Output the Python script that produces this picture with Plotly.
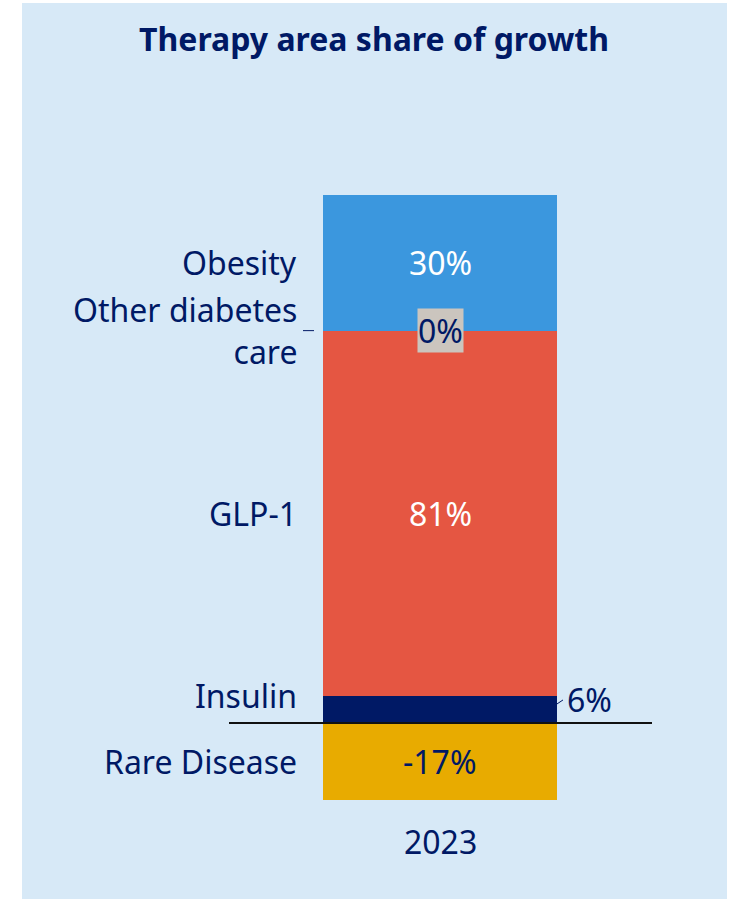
import plotly.graph_objects as go

# ---- data ----
year = ["2023"]
categories = ["Rare Disease", "Insulin", "GLP-1", "Other diabetes care", "Obesity"]
values = [-17, 6, 81, 0, 30]
label_texts = ["Rare Disease", "Insulin", "GLP-1", "Other diabetes<br>care", "Obesity"]
colors = ["#e8ab00", "#001965", "#e55642", "#d2ccc4", "#3b97de"]
title_text = "Therapy area share of growth"

NAVY = "#001965"
FONT = "Noto Sans"
FS = 32
W, H = 734, 899

# pixel geometry helpers (layout only)
PX_PER_UNIT = 4.51
ZERO_PX = 723
BAR_PX = 234
BAR_CENTER_PX = 440
x0_range = -BAR_CENTER_PX / BAR_PX
x_range = [x0_range, x0_range + W / BAR_PX]
y_range = [-(H - ZERO_PX) / PX_PER_UNIT, ZERO_PX / PX_PER_UNIT]

fig = go.Figure()
for cat, v, c in zip(categories, values, colors):
    fig.add_trace(go.Bar(
        x=[0], y=[v], name=cat, marker=dict(color=c, line=dict(width=0)),
        width=1, showlegend=False, hoverinfo="skip",
    ))

# cumulative positions (relative stacking)
pos_base, neg_base = 0.0, 0.0
segments = []
for v in values:
    if v >= 0:
        lo, hi = pos_base, pos_base + v
        pos_base = hi
    else:
        hi, lo = neg_base, neg_base + v
        neg_base = lo
    segments.append((lo, hi))

annotations = []
for i, (cat, v, txt) in enumerate(zip(categories, values, label_texts)):
    lo, hi = segments[i]
    mid = (lo + hi) / 2
    ly = mid
    yshift = 0
    if cat == "Insulin":
        ly = hi
        yshift = 0
    annotations.append(dict(
        x=-0.5, y=ly, xref="x", yref="y", text=txt, showarrow=False,
        xanchor="right", yanchor="middle", xshift=-24, yshift=yshift,
        align="right", font=dict(family=FONT, size=FS, color=NAVY),
    ))
    vt = f"{v}%"
    if cat == "Insulin":
        annotations.append(dict(
            x=0.5, y=hi, xref="x", yref="y", text=vt, showarrow=False,
            xanchor="left", yanchor="middle", xshift=8, yshift=-4,
            font=dict(family=FONT, size=FS, color=NAVY),
        ))
    elif cat == "Other diabetes care":
        annotations.append(dict(
            x=0, y=mid, xref="x", yref="y", text=vt, showarrow=False,
            xanchor="center", yanchor="middle", bgcolor="#cbc5be", borderpad=0,
            font=dict(family=FONT, size=FS, color=NAVY),
        ))
    else:
        col = "white" if cat in ("GLP-1", "Obesity") else NAVY
        annotations.append(dict(
            x=0, y=mid, xref="x", yref="y", text=vt, showarrow=False,
            xanchor="center", yanchor="middle",
            font=dict(family=FONT, size=FS, color=col),
        ))

# x category label
annotations.append(dict(
    x=0, y=y_range[0], xref="x", yref="y", text=year[0], showarrow=False,
    xanchor="center", yanchor="middle", yshift=(H - 841),
    font=dict(family=FONT, size=FS, color=NAVY),
))

shapes = [
    dict(type="rect", xref="paper", yref="paper", x0=22 / W, x1=727 / W,
         y0=0, y1=1 - 3 / H, fillcolor="#d7e9f7", line=dict(width=0), layer="below"),
    dict(type="line", xref="x", yref="y", x0=x_range[0] + 229 / BAR_PX,
         x1=x_range[0] + 652 / BAR_PX, y0=0, y1=0,
         line=dict(color="#111111", width=2), layer="above"),
]
oth = segments[categories.index("Other diabetes care")]
shapes.append(dict(type="line", xref="x", yref="y", xsizemode="pixel", xanchor=-0.5,
                   x0=-20, x1=-9, y0=oth[0], y1=oth[0],
                   line=dict(color=NAVY, width=1)))
ins = segments[categories.index("Insulin")]
shapes.append(dict(type="line", xref="x", yref="y", xsizemode="pixel", xanchor=0.5,
                   ysizemode="pixel", yanchor=ins[1], x0=0, x1=6, y0=-8, y1=-4,
                   line=dict(color=NAVY, width=1)))

fig.update_layout(
    width=W, height=H, margin=dict(l=0, r=0, t=0, b=0),
    paper_bgcolor="white", plot_bgcolor="rgba(0,0,0,0)",
    barmode="relative", bargap=0,
    xaxis=dict(range=x_range, visible=False, fixedrange=True),
    yaxis=dict(range=y_range, visible=False, fixedrange=True),
    title=dict(text=f"<b>{title_text}</b>", x=374 / W, xanchor="center",
               y=1 - 40 / H, yanchor="middle", yref="container",
               font=dict(family=FONT, size=FS, color=NAVY)),
    annotations=annotations, shapes=shapes,
)

fig.write_html("out.html")
